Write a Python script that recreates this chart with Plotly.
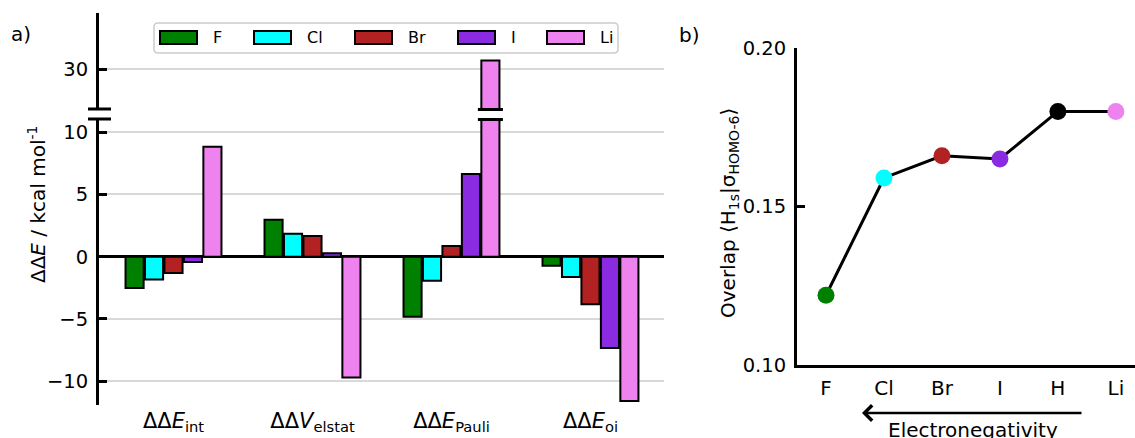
import plotly.graph_objects as go

# ---------------- data ----------------
terms = ["ΔΔ<i>E</i><sub>int</sub>", "ΔΔ<i>V</i><sub>elstat</sub>",
         "ΔΔ<i>E</i><sub>Pauli</sub>", "ΔΔ<i>E</i><sub>oi</sub>"]
series_names = ["F", "Cl", "Br", "I", "Li"]
F_vals = [-2.52, 2.96, -4.82, -0.72]
Cl_vals = [-1.84, 1.85, -1.94, -1.62]
Br_vals = [-1.30, 1.66, 0.85, -3.82]
I_vals = [-0.43, 0.28, 6.65, -7.33]
Li_vals = [8.84, -9.70, 30.7, -11.58]
series_colors = ["#008000", "#00ffff", "#b22222", "#8a2be2", "#ee82ee"]

atoms = ["F", "Cl", "Br", "I", "H", "Li"]
overlap = [0.122, 0.159, 0.166, 0.165, 0.180, 0.180]
atom_colors = ["#008000", "#00ffff", "#b22222", "#8a2be2", "#000000", "#ee82ee"]

lower_ticks = [-10, -5, 0, 5, 10]
upper_ticks = [30]
overlap_ticks = [0.10, 0.15, 0.20]

# ---------------- layout helpers ----------------
W, H = 1135, 438
FONT = "DejaVu Sans"
def px(p):
    return p / W
def py(p):
    return 1 - p / H

series_vals = [F_vals, Cl_vals, Br_vals, I_vals, Li_vals]
xpos = list(range(len(terms)))

fig = go.Figure()
for name, vals, col in zip(series_names, series_vals, series_colors):
    for xa, ya in (("x", "y"), ("x3", "y3")):
        fig.add_trace(go.Bar(
            x=xpos, y=vals, name=name, xaxis=xa, yaxis=ya, showlegend=False,
            marker=dict(color=col, line=dict(color="black", width=2)),
        ))

fig.add_trace(go.Scatter(
    x=list(range(len(atoms))), y=overlap, xaxis="x2", yaxis="y2",
    mode="lines+markers", showlegend=False,
    line=dict(color="black", width=3),
    marker=dict(color=atom_colors, size=17, line=dict(width=0)),
))

GRID = "#d9d9d9"
yaxis_common = dict(showline=True, linecolor="black", linewidth=3,
                    ticks="inside", ticklen=8, tickwidth=2.5, tickcolor="black",
                    tickfont=dict(family=FONT, size=19.5, color="black"),
                    ticklabelstandoff=4, automargin=False)

fig.update_layout(
    template="none",
    width=W, height=H, autosize=False,
    margin=dict(l=0, r=0, t=0, b=0, pad=0, autoexpand=False),
    paper_bgcolor="white", plot_bgcolor="rgba(0,0,0,0)",
    font=dict(family=FONT, color="black"),
    barmode="group", bargap=0.3, bargroupgap=0.07,
    xaxis=dict(domain=[px(99), px(664)], range=[-0.536, 3.529], anchor="y",
               tickvals=xpos, ticktext=terms, showline=False, ticks="",
               showgrid=False, zeroline=False, automargin=False,
               ticklabelstandoff=1,
               tickfont=dict(family=FONT, size=21, color="black")),
    yaxis=dict(domain=[py(405), py(119)], range=[-11.91, 11.06], anchor="x",
               tickvals=lower_ticks, showgrid=True, gridcolor=GRID, gridwidth=1.5,
               zeroline=True, zerolinecolor="black", zerolinewidth=3,
               **yaxis_common),
    xaxis3=dict(domain=[px(99), px(664)], range=[-0.536, 3.529], anchor="y3",
                matches="x", showticklabels=False, showline=False, ticks="",
                showgrid=False, zeroline=False, automargin=False),
    yaxis3=dict(domain=[py(109), py(13)], range=[26.81, 34.52], anchor="x3",
                tickvals=upper_ticks, showgrid=True, gridcolor=GRID, gridwidth=1.5,
                zeroline=False, **yaxis_common),
    xaxis2=dict(domain=[px(797), 1.0], range=[-0.5, 5.33], anchor="y2",
                tickvals=list(range(len(atoms))), ticktext=atoms,
                showline=True, linecolor="black", linewidth=3, ticks="",
                showgrid=False, zeroline=False, ticklabelstandoff=3, automargin=False,
                tickfont=dict(family=FONT, size=20, color="black")),
    yaxis2=dict(domain=[py(365), py(48)], range=[0.10, 0.20], anchor="x2",
                tickvals=overlap_ticks, tickformat=".2f", showgrid=False,
                zeroline=False, **yaxis_common),
)

shapes = []
# axis break marks (left spine)
for yb in (109, 119):
    shapes.append(dict(type="line", xref="paper", yref="paper",
                       x0=px(88), x1=px(111), y0=py(yb), y1=py(yb),
                       line=dict(color="black", width=3)))
# break marks on the broken Li bar (Pauli group)
slot = (1 - 0.3) / len(series_names)
li_center = xpos[2] + (len(series_names) - 1) / 2 * slot
for yb in (109.5, 119.5):
    shapes.append(dict(type="line", xref="x", yref="paper",
                       x0=li_center - 0.09, x1=li_center + 0.09, y0=py(yb), y1=py(yb),
                       line=dict(color="black", width=3)))

# manual legend
lx0, lx1, ly0, ly1, r = 154, 618, 23, 53, 4
path = (f"M {px(lx0+r)},{py(ly0)} L {px(lx1-r)},{py(ly0)} "
        f"Q {px(lx1)},{py(ly0)} {px(lx1)},{py(ly0+r)} L {px(lx1)},{py(ly1-r)} "
        f"Q {px(lx1)},{py(ly1)} {px(lx1-r)},{py(ly1)} L {px(lx0+r)},{py(ly1)} "
        f"Q {px(lx0)},{py(ly1)} {px(lx0)},{py(ly1-r)} L {px(lx0)},{py(ly0+r)} "
        f"Q {px(lx0)},{py(ly0)} {px(lx0+r)},{py(ly0)} Z")
shapes.append(dict(type="path", xref="paper", yref="paper", path=path,
                   fillcolor="rgba(255,255,255,0.85)",
                   line=dict(color="#cccccc", width=1.5)))
patch_left = [160, 254, 355, 458, 547]
annotations = []
for name, col, pl in zip(series_names, series_colors, patch_left):
    shapes.append(dict(type="rect", xref="paper", yref="paper",
                       x0=px(pl), x1=px(pl + 37), y0=py(44), y1=py(31),
                       fillcolor=col, line=dict(color="black", width=2)))
    annotations.append(dict(xref="paper", yref="paper", x=px(pl + 51), y=py(37.5),
                            xanchor="left", yanchor="middle", showarrow=False,
                            text=name, font=dict(family=FONT, size=16, color="black")))

# panel labels and titles
annotations += [
    dict(xref="paper", yref="paper", x=px(9), y=py(34), xanchor="left", yanchor="middle",
         showarrow=False, text="a)", font=dict(family=FONT, size=20, color="black")),
    dict(xref="paper", yref="paper", x=px(677), y=py(35), xanchor="left", yanchor="middle",
         showarrow=False, text="b)", font=dict(family=FONT, size=20, color="black")),
    dict(xref="paper", yref="paper", x=px(37), y=py(205), xanchor="center", yanchor="middle",
         textangle=-90, showarrow=False,
         text="ΔΔ<i>E</i> / kcal mol<sup>-1</sup>",
         font=dict(family=FONT, size=20, color="black")),
    dict(xref="paper", yref="paper", x=px(729), y=py(213), xanchor="center", yanchor="middle",
         textangle=-90, showarrow=False,
         text="Overlap ⟨H<sub>1s</sub>|σ<sub>HOMO-6</sub>⟩",
         font=dict(family=FONT, size=20, color="black")),
    dict(xref="paper", yref="paper", x=px(862), y=py(413), ax=221, ay=0,
         axref="pixel", ayref="pixel", text="", showarrow=True,
         arrowhead=4, arrowsize=1.2, arrowwidth=2.5, arrowcolor="black"),
    dict(xref="paper", yref="paper", x=px(973), y=py(416), xanchor="center", yanchor="top",
         showarrow=False, text="Electronegativity",
         font=dict(family=FONT, size=20, color="black")),
]

fig.update_layout(shapes=shapes, annotations=annotations)
fig.write_html("out.html", config={"responsive": False, "displayModeBar": False},
               post_script="document.body.style.margin='0';document.body.style.overflow='hidden';")
